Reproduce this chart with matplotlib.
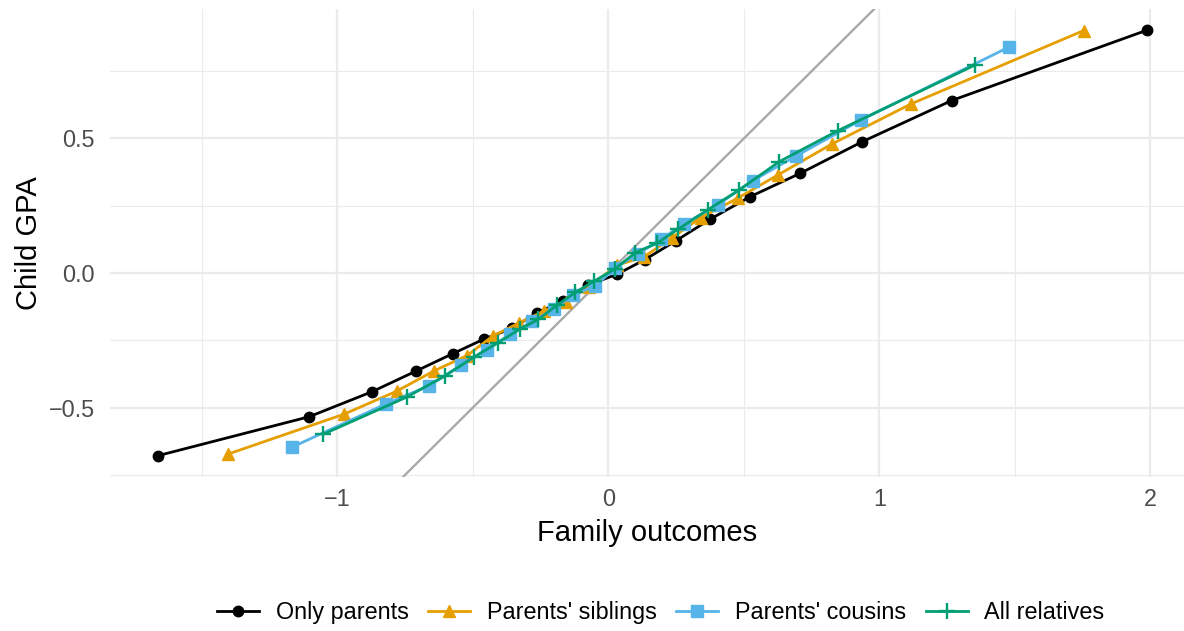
import matplotlib
matplotlib.use("Agg")
import matplotlib.pyplot as plt
from matplotlib.ticker import MultipleLocator

plt.rcParams['font.family'] = ['Liberation Sans', 'DejaVu Sans']

# quantiles
parents_x = [-1.663, -1.104, -0.872, -0.709, -0.575, -0.460, -0.357, -0.263, -0.167, -0.074,
             0.033, 0.135, 0.248, 0.374, 0.524, 0.707, 0.937, 1.267, 1.989]
parents_y = [-0.679, -0.534, -0.441, -0.364, -0.300, -0.246, -0.206, -0.148, -0.104, -0.045,
             -0.004, 0.050, 0.119, 0.199, 0.284, 0.370, 0.488, 0.641, 0.903]

siblings_x = [-1.404, -0.974, -0.781, -0.644, -0.522, -0.426, -0.330, -0.237, -0.156, -0.070,
              0.030, 0.133, 0.233, 0.341, 0.477, 0.625, 0.826, 1.116, 1.754]
siblings_y = [-0.673, -0.524, -0.439, -0.364, -0.307, -0.234, -0.186, -0.141, -0.106, -0.052,
              0.028, 0.061, 0.130, 0.206, 0.278, 0.364, 0.480, 0.628, 0.901]

cousins_x = [-1.167, -0.822, -0.662, -0.543, -0.448, -0.363, -0.280, -0.202, -0.130, -0.048,
             0.026, 0.109, 0.193, 0.278, 0.403, 0.532, 0.693, 0.933, 1.477]
cousins_y = [-0.647, -0.487, -0.419, -0.342, -0.286, -0.227, -0.180, -0.134, -0.082, -0.048,
             0.020, 0.071, 0.125, 0.182, 0.253, 0.343, 0.435, 0.569, 0.839]

allrel_x = [-1.052, -0.744, -0.604, -0.496, -0.409, -0.326, -0.258, -0.189, -0.122, -0.052,
            0.024, 0.100, 0.178, 0.256, 0.366, 0.483, 0.631, 0.847, 1.353]
allrel_y = [-0.599, -0.461, -0.383, -0.312, -0.260, -0.208, -0.172, -0.119, -0.072, -0.030,
            0.015, 0.076, 0.110, 0.162, 0.234, 0.309, 0.414, 0.529, 0.773]

W, H = 1184, 631
fig = plt.figure(figsize=(W / 100, H / 100), dpi=100)
ax = fig.add_axes([110 / W, (H - 477) / H, (W - 110) / W, (477 - 9) / H])

ax.set_xlim(-1.839, 2.124)
ax.set_ylim(-0.758, 0.981)

# identity line
ax.axline((0, 0), slope=1, color='#A9A9A9', lw=1.7, zorder=1)

ax.plot(parents_x, parents_y, color='black', lw=2.0, marker='o', ms=7.5, label='Only parents', zorder=3)
ax.plot(siblings_x, siblings_y, color='#E69F00', lw=2.0, marker='^', ms=9, label="Parents' siblings", zorder=3)
ax.plot(cousins_x, cousins_y, color='#56B4E9', lw=2.0, marker='s', ms=8, label="Parents' cousins", zorder=3)
ax.plot(allrel_x, allrel_y, color='#009E73', lw=2.0, marker='+', ms=12, mew=1.7, label='All relatives', zorder=3)

ax.xaxis.set_major_locator(MultipleLocator(1))
ax.xaxis.set_minor_locator(MultipleLocator(0.5))
ax.yaxis.set_major_locator(MultipleLocator(0.5))
ax.yaxis.set_minor_locator(MultipleLocator(0.25))
ax.grid(which='major', color='#EBEBEB', lw=1.6, zorder=0)
ax.grid(which='minor', color='#EBEBEB', lw=0.8, zorder=0)
ax.set_axisbelow(True)
for s in ax.spines.values():
    s.set_visible(False)
ax.tick_params(which='both', length=0, labelsize=16.8, labelcolor='#4D4D4D')
ax.tick_params(axis='x', pad=8)
ax.tick_params(axis='y', pad=11)

ax.set_xlabel('Family outcomes', fontsize=21, labelpad=6)
ax.set_ylabel('Child GPA', fontsize=21, labelpad=4)

fig.legend(loc='center', bbox_to_anchor=(0.558, 0.029), ncol=4, frameon=False,
           fontsize=16.8, numpoints=1, handlelength=1.8, handletextpad=0.7,
           columnspacing=0.85)

fig.savefig('out.png', dpi=100)
